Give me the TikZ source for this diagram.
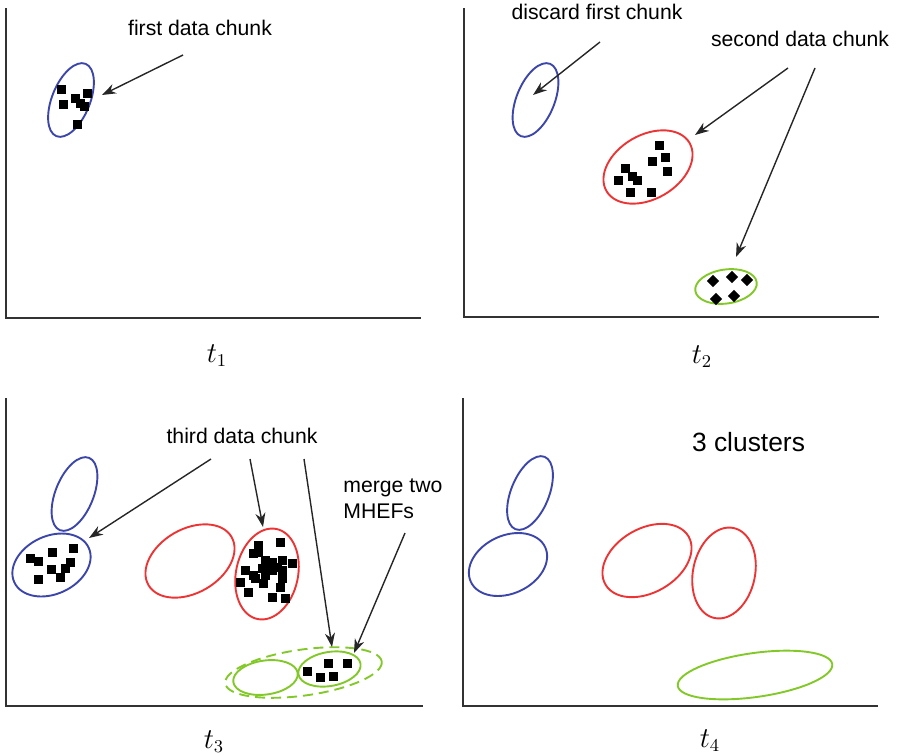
\documentclass[tikz,border=0pt]{standalone}
\usepackage{fontspec}
\setmainfont{Liberation Sans}
\usetikzlibrary{arrows.meta}
\definecolor{cblue}{RGB}{60,70,170}
\definecolor{cred}{RGB}{236,52,52}
\definecolor{cgreen}{RGB}{130,200,40}
\definecolor{caxis}{RGB}{50,50,50}
\tikzset{
  axisline/.style={draw=caxis,line width=1pt},
  blueE/.style={draw=cblue,line width=0.95pt},
  redE/.style={draw=cred,line width=0.95pt},
  greenE/.style={draw=cgreen,line width=0.95pt},
  arr/.style={draw=black!85,line width=0.7pt,-{Stealth[length=7pt,width=5pt]}},
  sq/.style={fill=black,minimum size=4.5pt,inner sep=0pt,outer sep=0pt},
  dm/.style={fill=black,minimum size=4.3pt,inner sep=0pt,outer sep=0pt,rotate=45},
  lbl/.style={font=\fontsize{10.6}{12}\selectfont,anchor=base,inner sep=0pt},
  tlbl/.style={font=\fontsize{13.5}{15}\selectfont,anchor=base,inner sep=0pt}
}
\begin{document}
\begin{tikzpicture}[x=0.5pt,y=-0.5pt]
\useasboundingbox (0,0) rectangle (897,755);
% ---------- axes
\draw[axisline] (6,8) -- (6,318) -- (421,318);
\draw[axisline] (464,8) -- (464,317) -- (879,317);
\draw[axisline] (6,398) -- (6,706) -- (423,706);
\draw[axisline] (463,398) -- (463,706) -- (878,706);
% ---------- time labels
\node[tlbl] (t1) at (217,362) {$t_1$};
\node[tlbl] (t2) at (702,363) {$t_2$};
\node[tlbl] (t3) at (214,748) {$t_3$};
\node[tlbl] (t4) at (710,747) {$t_4$};

% ================= panel 1
\node[lbl] (l1) at (200,35) {first data chunk};
\draw[blueE] (71,100) ellipse [x radius=19, y radius=39, rotate=-22];
\foreach \x/\y [count=\i] in {61/89,87/93,75/98,63/104,80/103,84/106,77/124}
  \node[sq] (p1-\i) at (\x,\y) {};
\coordinate (a1s) at (183,55);
\coordinate (a1e) at (102,95);
\draw[arr] (a1s) -- (a1e);

% ================= panel 2
\node[lbl] (l2a) at (597,19) {discard first chunk};
\node[lbl] (l2b) at (800,46) {second data chunk};
\draw[blueE] (535.5,100) ellipse [x radius=19, y radius=39, rotate=-22];
\draw[redE] (648,167) ellipse [x radius=48, y radius=32, rotate=30];
\draw[greenE] (726,286.5) ellipse [x radius=31, y radius=17, rotate=8];
\foreach \x/\y [count=\i] in {659/145,652/161,665/157,667/171,625/168,618/180,632/176,637/180,630/192,651/192}
  \node[sq] (p2-\i) at (\x,\y) {};
\foreach \x/\y [count=\i] in {713/281,732/277,747/280,716/299,734/296}
  \node[dm] (q2-\i) at (\x,\y) {};
\coordinate (b1s) at (600,42);
\coordinate (b1e) at (533,95);
\coordinate (b2s) at (788,68);
\coordinate (b2e) at (695,135);
\coordinate (b3s) at (815,68);
\coordinate (b3e) at (736,257);
\draw[arr] (b1s) -- (b1e);
\draw[arr] (b2s) -- (b2e);
\draw[arr] (b3s) -- (b3e);

% ================= panel 3
\node[lbl] (l3a) at (242,443) {third data chunk};
\node[lbl,anchor=base west] (l3b) at (343,492) {merge two};
\node[lbl,anchor=base west] (l3c) at (343,518) {MHEFs};
\draw[blueE] (74.5,494) ellipse [x radius=19, y radius=39, rotate=-22];
\draw[blueE] (51.5,565) ellipse [x radius=41, y radius=29, rotate=25];
\draw[redE] (190,561) ellipse [x radius=48, y radius=32, rotate=30];
\draw[redE] (267,574) ellipse [x radius=31, y radius=46, rotate=-12];
\draw[greenE] (265.5,677.5) ellipse [x radius=32.5, y radius=17, rotate=8];
\draw[greenE] (329.5,669) ellipse [x radius=31.5, y radius=17, rotate=10];
\draw[greenE,dashed,dash pattern=on 5pt off 3pt] (303.5,672.5) ellipse [x radius=79, y radius=23, rotate=8];
\foreach \x/\y [count=\i] in {30/558,38/561,52/552,73/548,70/562,65/568,51/569,60/577,38/579}
  \node[sq] (p3-\i) at (\x,\y) {};
\foreach \x/\y [count=\i] in {280/542,258/545,253/553,258/552,265/560,272/562,282/560,292/563,262/568,272/570,282/570,245/570,255/578,265/575,282/578,240/582,263/583,280/587,248/592,272/597,285/598,267/567,277/567,253/575}
  \node[sq] (r3-\i) at (\x,\y) {};
\foreach \x/\y [count=\i] in {307/671,320/677,328/663,333/676,347/663}
  \node[sq] (g3-\i) at (\x,\y) {};
\coordinate (c1s) at (211,459);
\coordinate (c1e) at (89,538);
\coordinate (c2s) at (250,459);
\coordinate (c2e) at (263,527);
\coordinate (c3s) at (304,459);
\coordinate (c3e) at (332,647);
\coordinate (c4s) at (405,533);
\coordinate (c4e) at (354,653);
\draw[arr] (c1s) -- (c1e);
\draw[arr] (c2s) -- (c2e);
\draw[arr] (c3s) -- (c3e);
\draw[arr] (c4s) -- (c4e);

% ================= panel 4
\node[lbl,font=\fontsize{13.2}{15}\selectfont] (l4) at (748.5,451) {3 clusters};
\draw[blueE] (530,493) ellipse [x radius=19, y radius=39, rotate=-22];
\draw[blueE] (508,564.5) ellipse [x radius=41, y radius=29, rotate=25];
\draw[redE] (647,560.5) ellipse [x radius=48, y radius=32, rotate=30];
\draw[redE] (724,573) ellipse [x radius=31, y radius=46, rotate=-12];
\draw[greenE] (755,675) ellipse [x radius=78, y radius=22, rotate=8];
\end{tikzpicture}
\end{document}
